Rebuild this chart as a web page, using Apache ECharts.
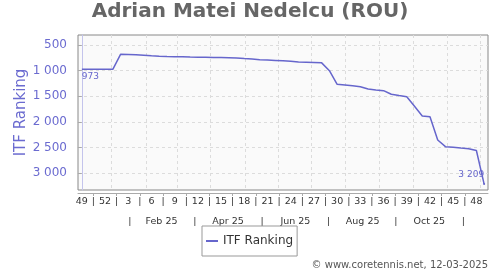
<!DOCTYPE html>
<html><head><meta charset="utf-8">
<script src="https://cdn.jsdelivr.net/npm/echarts@6/dist/echarts.min.js"></script>
<style>html,body{margin:0;padding:0;background:#fff}#c{width:500px;height:270px}</style>
</head><body><div id="c"></div>
<script>
// week index 0 = week 49 of 2024, one point per week
const weekLabels = [49,52,3,6,9,12,15,18,21,24,27,30,33,36,39,42,45,48]; // every 3 weeks from index 0
const monthLabels = ['Feb 25','Apr 25','Jun 25','Aug 25','Oct 25'];
const monthLabelPos = [10.3,18.9,27.6,36.3,44.9];
const monthSepPos = [6.2,14.6,23.3,31.9,40.6,49.3];
const monthGridPos = [3.8,8.3,12.3,16.6,21.1,25.4,29.7,34.0,38.5,42.8,47.2,51.5];
const yTicks = [500,1000,1500,2000,2500,3000];
const ranking = [973,973,973,973,973,681,685,690,700,710,718,725,728,730,735,738,740,742,745,748,752,765,775,785,792,800,808,818,830,835,840,848,1000,1266,1280,1295,1312,1357,1375,1390,1460,1485,1507,1695,1883,1897,2351,2481,2493,2508,2522,2555,3209];
const seriesName = 'ITF Ranking';
const titleText = 'Adrian Matei Nedelcu (ROU)';
const footerText = '\u00A9 www.coretennis.net, 12-03-2025';

const fmtNum = v => String(v).replace(/\B(?=(\d{3})+(?!\d))/g, ' ');
const key = v => Number(v).toFixed(2);

const weekMap = {}; const weekPos = []; const weekSep = [];
weekLabels.forEach((w, i) => { weekMap[key(i*3)] = String(w); weekPos.push(i*3); });
for (let i = 0; i < weekLabels.length - 1; i++) { const p = i*3 + 1.5; weekMap[key(p)] = '|'; weekSep.push(p); }
const monthMap = {};
monthLabelPos.forEach((p, i) => monthMap[key(p)] = monthLabels[i]);
monthSepPos.forEach(p => monthMap[key(p)] = '|');

const lineColor = '#6666cc';
const font = 'DejaVu Sans';
const lastIdx = ranking.length - 1;
const data = ranking.map((v, i) => {
  const item = { value: [i, v] };
  if (i === 0) item.label = { show: true, position: 'bottom', align: 'left', distance: 3 };
  if (i === lastIdx) {
    item.label = { show: true, position: 'top', align: 'right', distance: 4 };
    item.symbolSize = 2;
  }
  return item;
});

const xCommon = { type: 'value', min: -0.5, max: 52.5, position: 'bottom', gridIndex: 0 };

const chart = echarts.init(document.getElementById('c'), null, { renderer: 'canvas' });
chart.setOption({
  animation: false,
  backgroundColor: '#fff',
  textStyle: { fontFamily: font },
  title: [
    { text: titleText, left: 'center', top: 2, padding: 0,
      textStyle: { fontFamily: font, fontSize: 20, fontWeight: 'bold', color: '#666' } },
    { text: footerText, right: 12, top: 260, padding: 0,
      textStyle: { fontFamily: font, fontSize: 10, fontWeight: 'normal', color: '#555' } }
  ],
  legend: {
    data: [seriesName], left: 202, top: 226, padding: [9, 4, 9, 4],
    borderColor: '#999', borderWidth: 1, borderRadius: 0,
    icon: 'rect', itemWidth: 12, itemHeight: 2, itemGap: 5,
    textStyle: { fontFamily: font, fontSize: 12, color: '#333' }
  },
  grid: { left: 78, right: 12, top: 35, bottom: 80, show: true, borderColor: '#888', borderWidth: 1, backgroundColor: '#fafafa' },
  xAxis: [
    Object.assign({}, xCommon, {
      offset: 3,
      axisLine: { show: true, onZero: false, lineStyle: { color: '#aaa' } },
      axisTick: { show: true, length: 3, customValues: weekSep, lineStyle: { color: '#aaa' } },
      axisLabel: { customValues: weekPos.concat(weekSep), margin: 4, fontSize: 9.5, color: '#333', fontFamily: font,
        formatter: v => weekMap[key(v)] || '' },
      splitLine: { show: false }
    }),
    Object.assign({}, xCommon, {
      offset: 24,
      axisLine: { show: false },
      axisTick: { show: false },
      axisLabel: { customValues: monthLabelPos.concat(monthSepPos), margin: 3, fontSize: 9.5, color: '#333', fontFamily: font,
        formatter: v => monthMap[key(v)] || '' },
      splitLine: { show: false }
    }),
    Object.assign({}, xCommon, {
      axisLine: { show: false },
      axisTick: { show: false, customValues: monthGridPos },
      axisLabel: { show: false },
      splitLine: { show: true, lineStyle: { color: '#dcdcdc', type: [3, 3] } }
    })
  ],
  yAxis: {
    type: 'value', inverse: true, min: 305, max: 3325, offset: 5,
    name: seriesName, nameLocation: 'middle', nameGap: 44, nameMoveOverlap: false,
    nameTextStyle: { fontFamily: font, fontSize: 15, color: '#6b6bd0' },
    axisLine: { show: true, lineStyle: { color: '#c4c4ec' } },
    axisTick: { show: true, length: 4, customValues: yTicks, lineStyle: { color: '#aaa' } },
    axisLabel: { customValues: yTicks, margin: 6, fontSize: 12, color: '#6b6bd0', fontFamily: font, formatter: v => fmtNum(v) },
    splitLine: { show: true, lineStyle: { color: '#dcdcdc', type: [3, 3] } }
  },
  series: [{
    name: seriesName, type: 'line', xAxisIndex: 0, yAxisIndex: 0,
    data: data, showSymbol: true, symbol: 'circle', symbolSize: 0,
    lineStyle: { color: lineColor, width: 1.5 }, itemStyle: { color: lineColor },
    label: { show: false, fontFamily: font, fontSize: 9, color: lineColor, formatter: p => fmtNum(p.value[1]) },
    emphasis: { disabled: true }
  }]
});
</script></body></html>
